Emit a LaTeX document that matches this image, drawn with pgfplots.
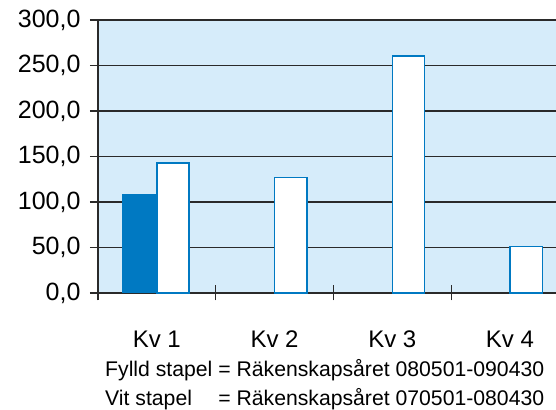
\documentclass[border=0pt]{standalone}
\usepackage{pgfplots}
\pgfplotsset{compat=1.18}
\usepackage{fontspec}
\setmainfont{Liberation Sans}
\definecolor{barblue}{HTML}{0079C2}
\definecolor{bgblue}{HTML}{D6ECFA}
\definecolor{gridc}{HTML}{2A2A2A}
\begin{document}
\begin{tikzpicture}[x=1pt,y=1pt]
\begin{axis}[
  at={(98pt,116pt)}, anchor=south west,
  scale only axis, width=458pt, height=273pt,
  xmin=-0.5, xmax=3.391, ymin=0, ymax=300,
  axis lines*=left,
  axis line style={draw=gridc, line width=1.1pt},
  axis background/.style={fill=bgblue},
  ytick={0,50,...,300},
  yticklabels={{0,0},{50,0},{100,0},{150,0},{200,0},{250,0},{300,0}},
  ymajorgrids, major grid style={draw=gridc, line width=1.1pt},
  yticklabel style={font=\fontsize{25}{28}\selectfont, xshift=-6pt},
  tick align=outside,
  major tick length=8pt,
  tick style={draw=gridc, line width=1.1pt},
  xtick={0,1,2,3}, xticklabels={Kv 1,Kv 2,Kv 3,Kv 4},
  xtick style={draw=none},
  xticklabel style={font=\fontsize{24}{28}\selectfont, yshift=-26pt},
  extra x ticks={-0.5,0.5,1.5,2.5},
  extra x tick labels={},
  extra x tick style={major tick length=15pt, tick align=center, xtick style={draw=gridc, line width=1.1pt}},
  clip=false,
]
\addplot[ybar, bar width=0.29, bar shift=-0.145, fill=barblue, draw=barblue, line width=0pt]
  coordinates {(0,108.5)};
\addplot[ybar, bar width=0.275, bar shift=0.1375, fill=white, draw=barblue, line width=1.5pt]
  coordinates {(0,142.9) (1,126.7) (2,260.4) (3,51.3)};
\end{axis}
\node[anchor=base west, inner sep=0pt, font=\fontsize{21.2}{28}\selectfont] at (105pt,32pt) {Fylld stapel = Räkenskapsåret 080501-090430};
\node[anchor=base west, inner sep=0pt, font=\fontsize{21.2}{28}\selectfont] at (105pt,4pt) {\makebox[0pt][l]{Vit stapel}\phantom{Fylld stapel} = Räkenskapsåret 070501-080430};
\pgfresetboundingbox
\path[use as bounding box] (0,0) rectangle (556pt,409pt);
\end{tikzpicture}
\end{document}
